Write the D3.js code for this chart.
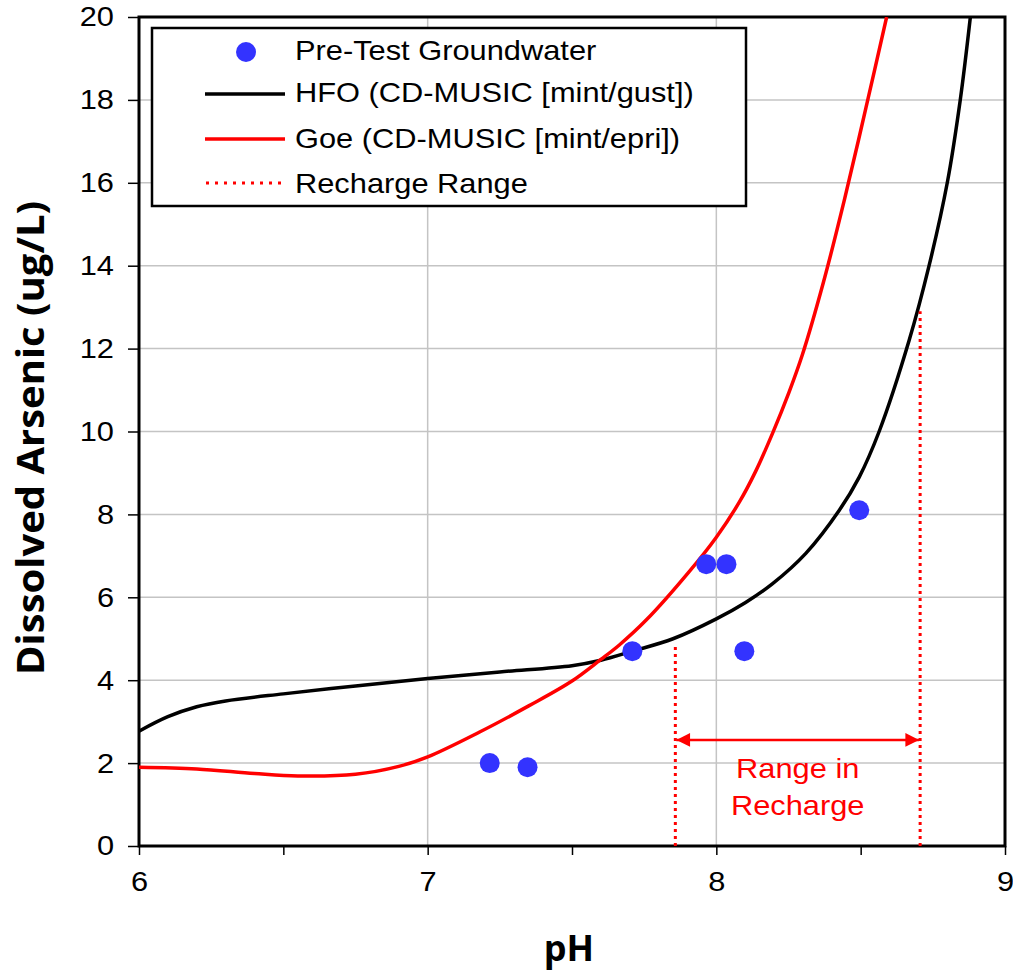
<!DOCTYPE html>
<html><head><meta charset="utf-8">
<script src="https://cdnjs.cloudflare.com/ajax/libs/d3/7.8.5/d3.min.js"></script>
<style>body{margin:0;background:#fff;} svg{display:block;font-family:Arial,"Liberation Sans",sans-serif;}</style>
</head><body>
<svg id="c" width="1013" height="974"></svg>
<script>
// Data
const pointsPH = [7.215, 7.346, 7.709, 7.965, 8.035, 8.097, 8.495];
const pointsAs = [2.0, 1.9, 4.7, 6.8, 6.8, 4.7, 8.1];
const hfoPH = [6.0, 6.1, 6.2, 6.3, 6.5, 6.75, 7.0, 7.25, 7.5, 7.6, 7.709, 7.85, 8.0, 8.1, 8.195, 8.31, 8.426, 8.495, 8.564, 8.668, 8.737, 8.8, 8.845, 8.88];
const hfoAs = [2.77, 3.12, 3.36, 3.5, 3.67, 3.86, 4.04, 4.2, 4.35, 4.48, 4.7, 5.0, 5.48, 5.87, 6.33, 7.06, 8.1, 8.9, 10.0, 12.2, 14.0, 16.0, 18.0, 20.0];
const goePH = [6.0, 6.2, 6.4, 6.55, 6.75, 6.9, 7.0, 7.18, 7.35, 7.5, 7.6, 7.664, 7.757, 7.906, 8.0, 8.08, 8.137, 8.195, 8.252, 8.298, 8.371, 8.444, 8.518, 8.59];
const goeAs = [1.9, 1.86, 1.75, 1.69, 1.73, 1.92, 2.15, 2.75, 3.38, 3.98, 4.5, 4.85, 5.45, 6.62, 7.45, 8.3, 9.05, 9.96, 10.95, 11.85, 13.6, 15.6, 17.8, 20.0];
const rechargePH = [7.858, 8.706];
const rechargeTop = [4.85, 12.9];
const arrowAs = 2.56;
const xTicks = [6, 7, 8, 9];
const xMinor = [6.5, 7.5, 8.5];
const yTicks = [0, 2, 4, 6, 8, 10, 12, 14, 16, 18, 20];
const legendLabels = ["Pre-Test Groundwater", "HFO (CD-MUSIC [mint/gust])", "Goe (CD-MUSIC [mint/epri])", "Recharge Range"];

const svg = d3.select("#c");
const L = 139, R = 1005, T = 17, B = 846;
const x = d3.scaleLinear().domain([6, 9]).range([L, R]);
const y = d3.scaleLinear().domain([0, 20]).range([B, T]);
const RED = "#ff0000", BLUE = "#3333ff";
function stretch(sel, k) {
  sel.each(function () {
    const w = this.getComputedTextLength();
    d3.select(this).attr("textLength", w * k).attr("lengthAdjust", "spacingAndGlyphs");
  });
}

svg.append("defs").append("clipPath").attr("id", "clip")
  .append("rect").attr("x", L).attr("y", T).attr("width", R - L).attr("height", B - T);

// gridlines
svg.append("g").selectAll("line").data(yTicks.slice(1, -1)).join("line")
  .attr("x1", L).attr("x2", R).attr("y1", d => y(d)).attr("y2", d => y(d))
  .attr("stroke", "#c4c4c4").attr("stroke-width", 1.5);
svg.append("g").selectAll("line").data([7, 8]).join("line")
  .attr("y1", T).attr("y2", B).attr("x1", d => x(d)).attr("x2", d => x(d))
  .attr("stroke", "#c4c4c4").attr("stroke-width", 1.5);

// axes
svg.append("g").attr("transform", `translate(${L},0)`)
  .call(d3.axisLeft(y).tickValues(yTicks).tickSize(11).tickPadding(14).tickFormat(d3.format("d")));
svg.append("g").attr("transform", `translate(0,${B})`)
  .call(d3.axisBottom(x).tickValues(xTicks).tickSize(9).tickPadding(16).tickFormat(d3.format("d")));
svg.append("g").attr("transform", `translate(0,${B})`)
  .call(d3.axisBottom(x).tickValues(xMinor).tickSize(9).tickFormat(""));
svg.selectAll(".tick line").attr("stroke", "#000").attr("stroke-width", 1.5);
svg.selectAll(".domain").remove();
svg.selectAll(".tick text").attr("font-size", 28).attr("fill", "#000")
  .attr("font-family", "Arial, 'Liberation Sans', sans-serif");
stretch(svg.selectAll(".tick text"), 1.1);

// frame
svg.append("rect").attr("x", L).attr("y", T).attr("width", R - L).attr("height", B - T)
  .attr("fill", "none").attr("stroke", "#000").attr("stroke-width", 3);

// curves
const line = d3.line().curve(d3.curveCatmullRom.alpha(0.5)).x(d => x(d[0])).y(d => y(d[1]));
const plot = svg.append("g").attr("clip-path", "url(#clip)");
plot.append("path").attr("d", line(hfoPH.map((v, i) => [v, hfoAs[i]])))
  .attr("fill", "none").attr("stroke", "#000").attr("stroke-width", 3.5);
plot.append("path").attr("d", line(goePH.map((v, i) => [v, goeAs[i]])))
  .attr("fill", "none").attr("stroke", RED).attr("stroke-width", 3.5);

// recharge range
plot.selectAll(".rr").data(rechargePH).join("line")
  .attr("x1", d => x(d)).attr("x2", d => x(d)).attr("y1", B).attr("y2", (d, i) => y(rechargeTop[i]))
  .attr("stroke", RED).attr("stroke-width", 3).attr("stroke-dasharray", "3,4");

// arrow
const defs = svg.select("defs");
defs.append("marker").attr("id", "ah").attr("viewBox", "0 0 10 10").attr("refX", 10).attr("refY", 5)
  .attr("markerWidth", 6).attr("markerHeight", 5.5).attr("markerUnits", "strokeWidth").attr("orient", "auto-start-reverse")
  .append("path").attr("d", "M0,0 L10,5 L0,10 Z").attr("fill", RED);
svg.append("line").attr("x1", x(rechargePH[0]) + 1).attr("x2", x(rechargePH[1]) - 1)
  .attr("y1", y(arrowAs)).attr("y2", y(arrowAs))
  .attr("stroke", RED).attr("stroke-width", 2.5)
  .attr("marker-start", "url(#ah)").attr("marker-end", "url(#ah)");
const midX = (x(rechargePH[0]) + x(rechargePH[1])) / 2;
const rt = svg.append("g");
rt.append("text").attr("x", midX).attr("y", 778).attr("text-anchor", "middle")
  .attr("font-size", 28).attr("fill", RED).text("Range in");
rt.append("text").attr("x", midX).attr("y", 815).attr("text-anchor", "middle")
  .attr("font-size", 28).attr("fill", RED).text("Recharge");
stretch(rt.selectAll("text"), 1.1);

// points
plot.selectAll("circle").data(pointsPH).join("circle")
  .attr("cx", d => x(d)).attr("cy", (d, i) => y(pointsAs[i])).attr("r", 10).attr("fill", BLUE);

// legend
const lg = svg.append("g");
lg.append("rect").attr("x", 152).attr("y", 28).attr("width", 594).attr("height", 178)
  .attr("fill", "#fff").attr("stroke", "#000").attr("stroke-width", 2.5);
const markY = [52, 94, 139, 183];
const textY = [60, 102, 148, 193];
lg.append("circle").attr("cx", 246).attr("cy", markY[0]).attr("r", 10).attr("fill", BLUE);
lg.append("line").attr("x1", 205).attr("x2", 285).attr("y1", markY[1]).attr("y2", markY[1]).attr("stroke", "#000").attr("stroke-width", 3.5);
lg.append("line").attr("x1", 205).attr("x2", 285).attr("y1", markY[2]).attr("y2", markY[2]).attr("stroke", RED).attr("stroke-width", 3.5);
lg.append("line").attr("x1", 206).attr("x2", 285).attr("y1", markY[3]).attr("y2", markY[3]).attr("stroke", RED).attr("stroke-width", 3).attr("stroke-dasharray", "3,6");
lg.selectAll("text").data(legendLabels).join("text")
  .attr("x", 295).attr("y", (d, i) => textY[i])
  .attr("font-size", 28).attr("fill", "#000").text(d => d);
stretch(lg.selectAll("text"), 1.1);

// axis titles
svg.append("text").attr("x", 569).attr("y", 961).attr("text-anchor", "middle")
  .attr("font-family", "'Open Sans', sans-serif")
  .attr("font-size", 36).attr("font-weight", "bold").text("pH");
const yt = svg.append("text").attr("transform", `translate(44,438) rotate(-90)`)
  .attr("text-anchor", "middle").attr("font-family", "'Open Sans', sans-serif")
  .attr("font-size", 37).attr("font-weight", "bold")
  .text("Dissolved Arsenic (ug/L)");
stretch(yt, 1.08);
</script>
</body></html>
